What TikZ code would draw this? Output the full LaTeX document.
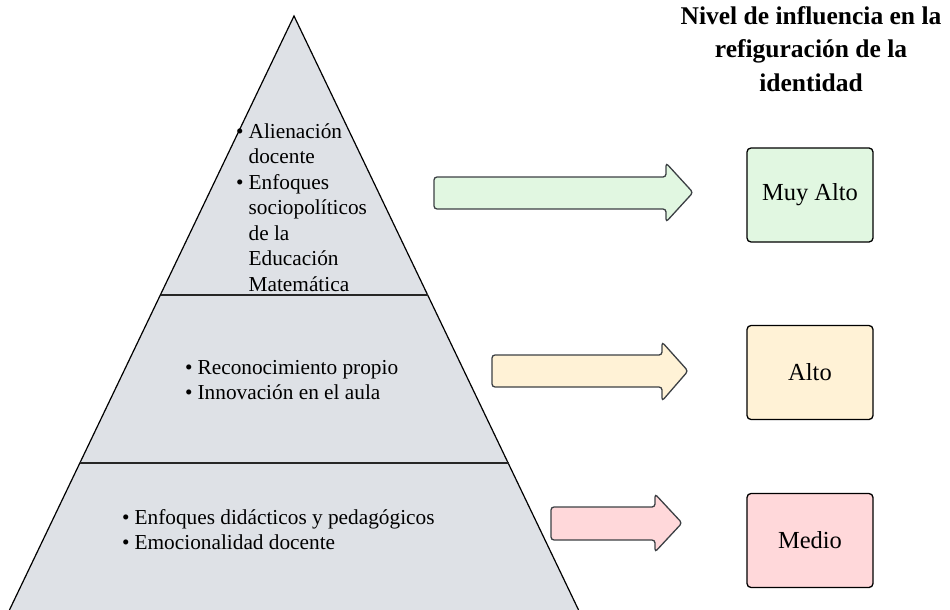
\documentclass[tikz,border=0pt]{standalone}
\usepackage{fontspec}
\setmainfont{Liberation Serif}
\definecolor{pyrfill}{RGB}{222,225,230}
\definecolor{greenf}{RGB}{225,247,225}
\definecolor{yellowf}{RGB}{255,242,214}
\definecolor{pinkf}{RGB}{255,216,218}
\definecolor{arrline}{RGB}{60,64,68}
\tikzset{
  pyrtext/.style={inner sep=0pt, anchor=base west, font=\fontsize{21.3}{25.5}\selectfont},
  levelbox/.style={draw=black, line width=1.3pt, rounded corners=4pt, minimum width=126pt, minimum height=94pt, font=\fontsize{24.5}{28}\selectfont, inner sep=0pt},
  bigarrow/.style={draw=arrline, line width=1.3pt, rounded corners=3pt},
  divider/.style={draw=black!85, line width=1.8pt}
}
\begin{document}
\begin{tikzpicture}[x=1pt,y=-1pt]
\useasboundingbox (0,0) rectangle (950,610);
\clip (0,0) rectangle (950,610);
% pyramid
\coordinate (apex) at (294,16);
\coordinate (bl) at (8,613);
\coordinate (br) at (580,613);
\fill[pyrfill] (apex) -- (bl) -- (br) -- cycle;
\draw[line width=1.2pt, line join=miter] (bl) -- (apex) -- (br);
\coordinate (d1l) at (160.5,295);
\coordinate (d1r) at (427.5,295);
\coordinate (d2l) at (79.5,463);
\coordinate (d2r) at (508.5,463);
\draw[divider] (d1l) -- (d1r);
\draw[divider] (d2l) -- (d2r);
% pyramid texts
\node[pyrtext] (top) at (236,138) {\begin{tabular}[t]{@{}l@{\hspace{5pt}}l@{}}
\textbullet & Alienación\\
 & docente\\
\textbullet & Enfoques\\
 & sociopolíticos\\
 & de la\\
 & Educación\\
 & Matemática
\end{tabular}};
\node[pyrtext] (mid) at (185,374) {\begin{tabular}[t]{@{}l@{\hspace{5pt}}l@{}}
\textbullet & Reconocimiento propio\\
\textbullet & Innovación en el aula
\end{tabular}};
\node[pyrtext] (bot) at (122,524) {\begin{tabular}[t]{@{}l@{\hspace{5pt}}l@{}}
\textbullet & Enfoques didácticos y pedagógicos\\
\textbullet & Emocionalidad docente
\end{tabular}};
% arrows
\draw[bigarrow, fill=greenf] (434,177) -- (666,177) -- (666,163) -- (693,192.5) -- (666,222) -- (666,209) -- (434,209) -- cycle;
\draw[bigarrow, fill=yellowf] (492,355) -- (662,355) -- (662,342) -- (688,371) -- (662,401) -- (662,387) -- (492,387) -- cycle;
\draw[bigarrow, fill=pinkf] (551,507) -- (655,507) -- (655,494) -- (682,523) -- (655,552) -- (655,540) -- (551,540) -- cycle;
% level boxes
\node[levelbox, fill=greenf] (muy) at (810,195) {Muy Alto};
\node[levelbox, fill=yellowf] (alto) at (810,372.5) {Alto};
\node[levelbox, fill=pinkf] (medio) at (810,540.5) {Medio};
% title
\node[font=\bfseries\fontsize{25.5}{33.5}\selectfont, align=center, anchor=north, inner sep=0pt] (title) at (811,6) {Nivel de influencia en la\\refiguración de la\\identidad};
\end{tikzpicture}
\end{document}
